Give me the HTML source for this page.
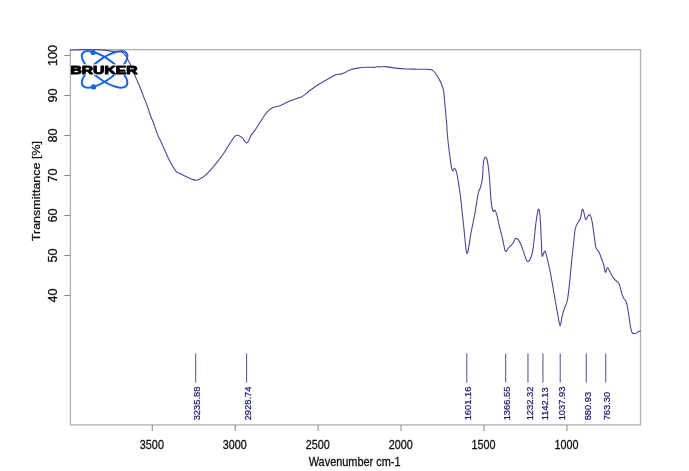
<!DOCTYPE html>
<html><head><meta charset="utf-8"><style>html,body{margin:0;padding:0;background:#fff;width:689px;height:471px;overflow:hidden}svg{display:block;will-change:transform}text{font-family:"Liberation Sans",sans-serif}</style></head>
<body><svg width="689" height="471" viewBox="0 0 689 471"><g>
<ellipse cx="104.6" cy="69.4" rx="27.3" ry="10.3" transform="rotate(36.5 104.6 69.4)" fill="none" stroke="#1565e6" stroke-width="2.0"/>
<ellipse cx="104.6" cy="69.4" rx="27.3" ry="10.3" transform="rotate(-36.5 104.6 69.4)" fill="none" stroke="#1565e6" stroke-width="2.0"/>
<circle cx="93.1" cy="52.4" r="2.6" fill="#1565e6"/>
<circle cx="93.6" cy="86.9" r="2.6" fill="#1565e6"/>
<rect x="71.6" y="64.3" width="66" height="10.6" fill="#fff"/>
</g>
<rect x="70.4" y="49.6" width="570.1" height="375.3" fill="none" stroke="#b0b0b0" stroke-width="1.3"/>
<line x1="64.3" y1="55.5" x2="70.4" y2="55.5" stroke="#8c8c8c" stroke-width="1.1"/>
<text transform="translate(56.7 55.5) rotate(-90) scale(1 0.97)" text-anchor="middle" font-size="12.6" fill="#111" stroke="#111" stroke-width="0.3">100</text>
<line x1="64.3" y1="95.5" x2="70.4" y2="95.5" stroke="#8c8c8c" stroke-width="1.1"/>
<text transform="translate(56.7 95.5) rotate(-90) scale(1 0.97)" text-anchor="middle" font-size="12.6" fill="#111" stroke="#111" stroke-width="0.3">90</text>
<line x1="64.3" y1="135.5" x2="70.4" y2="135.5" stroke="#8c8c8c" stroke-width="1.1"/>
<text transform="translate(56.7 135.5) rotate(-90) scale(1 0.97)" text-anchor="middle" font-size="12.6" fill="#111" stroke="#111" stroke-width="0.3">80</text>
<line x1="64.3" y1="175.5" x2="70.4" y2="175.5" stroke="#8c8c8c" stroke-width="1.1"/>
<text transform="translate(56.7 175.5) rotate(-90) scale(1 0.97)" text-anchor="middle" font-size="12.6" fill="#111" stroke="#111" stroke-width="0.3">70</text>
<line x1="64.3" y1="215.5" x2="70.4" y2="215.5" stroke="#8c8c8c" stroke-width="1.1"/>
<text transform="translate(56.7 215.5) rotate(-90) scale(1 0.97)" text-anchor="middle" font-size="12.6" fill="#111" stroke="#111" stroke-width="0.3">60</text>
<line x1="64.3" y1="255.5" x2="70.4" y2="255.5" stroke="#8c8c8c" stroke-width="1.1"/>
<text transform="translate(56.7 255.5) rotate(-90) scale(1 0.97)" text-anchor="middle" font-size="12.6" fill="#111" stroke="#111" stroke-width="0.3">50</text>
<line x1="64.3" y1="295.5" x2="70.4" y2="295.5" stroke="#8c8c8c" stroke-width="1.1"/>
<text transform="translate(56.7 295.5) rotate(-90) scale(1 0.97)" text-anchor="middle" font-size="12.6" fill="#111" stroke="#111" stroke-width="0.3">40</text>
<line x1="152.275" y1="424.9" x2="152.275" y2="431" stroke="#8c8c8c" stroke-width="1.1"/>
<text transform="translate(151.875 448.6) scale(0.9 1)" text-anchor="middle" font-size="12" fill="#111" stroke="#111" stroke-width="0.3">3500</text>
<line x1="235.20000000000002" y1="424.9" x2="235.20000000000002" y2="431" stroke="#8c8c8c" stroke-width="1.1"/>
<text transform="translate(234.8 448.6) scale(0.9 1)" text-anchor="middle" font-size="12" fill="#111" stroke="#111" stroke-width="0.3">3000</text>
<line x1="318.125" y1="424.9" x2="318.125" y2="431" stroke="#8c8c8c" stroke-width="1.1"/>
<text transform="translate(317.725 448.6) scale(0.9 1)" text-anchor="middle" font-size="12" fill="#111" stroke="#111" stroke-width="0.3">2500</text>
<line x1="401.04999999999995" y1="424.9" x2="401.04999999999995" y2="431" stroke="#8c8c8c" stroke-width="1.1"/>
<text transform="translate(400.65 448.6) scale(0.9 1)" text-anchor="middle" font-size="12" fill="#111" stroke="#111" stroke-width="0.3">2000</text>
<line x1="483.97499999999997" y1="424.9" x2="483.97499999999997" y2="431" stroke="#8c8c8c" stroke-width="1.1"/>
<text transform="translate(483.575 448.6) scale(0.9 1)" text-anchor="middle" font-size="12" fill="#111" stroke="#111" stroke-width="0.3">1500</text>
<line x1="566.9" y1="424.9" x2="566.9" y2="431" stroke="#8c8c8c" stroke-width="1.1"/>
<text transform="translate(566.5 448.6) scale(0.9 1)" text-anchor="middle" font-size="12" fill="#111" stroke="#111" stroke-width="0.3">1000</text>
<text transform="translate(354.6 466.2) scale(0.91 1)" text-anchor="middle" font-size="12" fill="#111" stroke="#111" stroke-width="0.3">Wavenumber cm-1</text>
<text transform="translate(39.7 191.1) rotate(-90) scale(1 0.9)" text-anchor="middle" font-size="12.5" fill="#111" stroke="#111" stroke-width="0.3">Transmittance [%]</text>
<line x1="195.679302" y1="353.5" x2="195.679302" y2="382.5" stroke="#4a4a90" stroke-width="1"/>
<text transform="translate(200.379302 420.3) rotate(-90) scale(0.95 1)" font-size="9.8" fill="#1c1c70" stroke="#1c1c70" stroke-width="0.25">3235.88</text>
<line x1="246.61847100000006" y1="353.5" x2="246.61847100000006" y2="382.5" stroke="#4a4a90" stroke-width="1"/>
<text transform="translate(251.31847100000005 420.3) rotate(-90) scale(0.95 1)" font-size="9.8" fill="#1c1c70" stroke="#1c1c70" stroke-width="0.25">2928.74</text>
<line x1="466.79761399999995" y1="353.5" x2="466.79761399999995" y2="382.5" stroke="#4a4a90" stroke-width="1"/>
<text transform="translate(471.49761399999994 420.3) rotate(-90) scale(0.95 1)" font-size="9.8" fill="#1c1c70" stroke="#1c1c70" stroke-width="0.25">1601.16</text>
<line x1="505.70768250000003" y1="353.5" x2="505.70768250000003" y2="382.5" stroke="#4a4a90" stroke-width="1"/>
<text transform="translate(510.4076825 420.3) rotate(-90) scale(0.95 1)" font-size="9.8" fill="#1c1c70" stroke="#1c1c70" stroke-width="0.25">1366.55</text>
<line x1="527.969728" y1="353.5" x2="527.969728" y2="382.5" stroke="#4a4a90" stroke-width="1"/>
<text transform="translate(532.6697280000001 420.3) rotate(-90) scale(0.95 1)" font-size="9.8" fill="#1c1c70" stroke="#1c1c70" stroke-width="0.25">1232.32</text>
<line x1="542.9277395" y1="353.5" x2="542.9277395" y2="382.5" stroke="#4a4a90" stroke-width="1"/>
<text transform="translate(547.6277395000001 420.3) rotate(-90) scale(0.95 1)" font-size="9.8" fill="#1c1c70" stroke="#1c1c70" stroke-width="0.25">1142.13</text>
<line x1="560.2093095" y1="353.5" x2="560.2093095" y2="382.5" stroke="#4a4a90" stroke-width="1"/>
<text transform="translate(564.9093095000001 420.3) rotate(-90) scale(0.95 1)" font-size="9.8" fill="#1c1c70" stroke="#1c1c70" stroke-width="0.25">1037.93</text>
<line x1="586.2477595" y1="353.5" x2="586.2477595" y2="382.5" stroke="#4a4a90" stroke-width="1"/>
<text transform="translate(590.9477595000001 420.3) rotate(-90) scale(0.95 1)" font-size="9.8" fill="#1c1c70" stroke="#1c1c70" stroke-width="0.25">880.93</text>
<line x1="605.756695" y1="353.5" x2="605.756695" y2="382.5" stroke="#4a4a90" stroke-width="1"/>
<text transform="translate(610.4566950000001 420.3) rotate(-90) scale(0.95 1)" font-size="9.8" fill="#1c1c70" stroke="#1c1c70" stroke-width="0.25">763.30</text>
<path d="M70.10,50.10 C71.95,50.02 76.80,49.68 81.20,49.60 C85.60,49.52 92.60,49.52 96.50,49.60 C100.40,49.68 102.23,49.85 104.60,50.10 C106.97,50.35 108.33,50.85 110.70,51.10 C113.07,51.35 116.97,51.43 118.80,51.60 C120.63,51.77 120.60,51.47 121.70,52.10 C122.80,52.73 124.35,54.10 125.40,55.40 C126.45,56.70 127.20,58.42 128.00,59.90 C128.80,61.38 129.48,62.75 130.20,64.30 C130.92,65.85 131.30,66.85 132.30,69.20 C133.30,71.55 134.88,75.32 136.20,78.40 C137.52,81.48 138.90,84.50 140.20,87.70 C141.50,90.90 142.77,94.38 144.00,97.60 C145.23,100.82 146.45,103.80 147.60,107.00 C148.75,110.20 150.00,114.35 150.90,116.80 C151.80,119.25 151.88,118.73 153.00,121.70 C154.12,124.67 156.20,131.12 157.60,134.60 C159.00,138.08 159.33,138.10 161.40,142.60 C163.47,147.10 167.57,156.82 170.00,161.60 C172.43,166.38 174.33,169.32 176.00,171.30 C177.67,173.28 178.35,172.63 180.00,173.50 C181.65,174.37 183.92,175.55 185.90,176.50 C187.88,177.45 190.28,178.58 191.90,179.20 C193.52,179.82 194.37,180.20 195.60,180.20 C196.83,180.20 197.68,180.02 199.30,179.20 C200.92,178.38 203.18,177.12 205.30,175.30 C207.42,173.48 209.77,170.83 212.00,168.30 C214.23,165.77 216.60,162.82 218.70,160.10 C220.80,157.38 222.62,154.97 224.60,152.00 C226.58,149.03 228.87,144.95 230.60,142.30 C232.33,139.65 233.77,137.27 235.00,136.10 C236.23,134.93 236.75,134.97 238.00,135.30 C239.25,135.63 241.02,136.82 242.50,138.10 C243.98,139.38 245.42,143.53 246.90,143.00 C248.38,142.47 249.92,137.23 251.40,134.90 C252.88,132.57 254.30,131.18 255.80,129.00 C257.30,126.82 258.65,124.50 260.40,121.80 C262.15,119.10 264.32,115.13 266.30,112.80 C268.28,110.47 270.07,108.97 272.30,107.80 C274.53,106.63 276.98,106.83 279.70,105.80 C282.42,104.77 285.72,102.83 288.60,101.60 C291.48,100.37 294.97,99.13 297.00,98.40 C299.03,97.67 299.47,97.83 300.80,97.20 C302.13,96.57 303.32,95.85 305.00,94.60 C306.68,93.35 308.43,91.50 310.90,89.70 C313.37,87.90 316.82,85.65 319.80,83.80 C322.78,81.95 326.07,80.13 328.80,78.60 C331.53,77.07 334.23,75.35 336.20,74.60 C338.17,73.85 339.10,74.47 340.60,74.10 C342.10,73.73 343.57,73.12 345.20,72.40 C346.83,71.68 348.37,70.52 350.40,69.80 C352.43,69.08 354.78,68.52 357.40,68.10 C360.02,67.68 363.08,67.43 366.10,67.30 C369.12,67.17 373.60,67.43 375.50,67.30 C377.40,67.17 376.75,66.55 377.50,66.50 C378.25,66.45 378.70,66.98 380.00,67.00 C381.30,67.02 382.68,66.42 385.30,66.60 C387.92,66.78 392.22,67.70 395.70,68.10 C399.18,68.50 402.72,68.82 406.20,69.00 C409.68,69.18 413.12,69.15 416.60,69.20 C420.08,69.25 424.60,69.20 427.10,69.30 C429.60,69.40 430.25,69.18 431.60,69.80 C432.95,70.42 434.03,71.58 435.20,73.00 C436.37,74.42 437.63,76.63 438.60,78.30 C439.57,79.97 440.17,80.90 441.00,83.00 C441.83,85.10 443.00,87.82 443.60,90.90 C444.20,93.98 444.25,97.78 444.60,101.50 C444.95,105.22 445.33,109.28 445.70,113.20 C446.07,117.12 446.55,121.75 446.80,125.00 C447.05,128.25 446.92,129.28 447.20,132.70 C447.48,136.12 448.02,141.25 448.50,145.50 C448.98,149.75 449.57,154.38 450.10,158.20 C450.63,162.02 451.27,166.27 451.70,168.40 C452.13,170.53 452.23,171.03 452.70,171.00 C453.17,170.97 453.93,168.20 454.50,168.20 C455.07,168.20 455.58,169.43 456.10,171.00 C456.62,172.57 456.87,173.30 457.60,177.60 C458.33,181.90 459.53,189.15 460.50,196.80 C461.47,204.45 462.53,215.23 463.40,223.50 C464.27,231.77 465.13,241.47 465.70,246.40 C466.27,251.33 466.38,252.45 466.80,253.10 C467.22,253.75 467.50,253.65 468.20,250.30 C468.90,246.95 469.90,239.05 471.00,233.00 C472.10,226.95 473.58,220.67 474.80,214.00 C476.02,207.33 477.33,197.47 478.30,193.00 C479.27,188.53 479.90,189.77 480.60,187.20 C481.30,184.63 482.02,181.80 482.50,177.60 C482.98,173.40 483.02,165.40 483.50,162.00 C483.98,158.60 484.77,157.40 485.40,157.20 C486.03,157.00 486.67,157.87 487.30,160.80 C487.93,163.73 488.57,168.17 489.20,174.80 C489.83,181.43 490.47,194.55 491.10,200.60 C491.73,206.65 492.37,209.52 493.00,211.10 C493.63,212.68 494.27,209.47 494.90,210.10 C495.53,210.73 496.00,212.03 496.80,214.90 C497.60,217.77 498.73,223.32 499.70,227.30 C500.67,231.28 501.65,234.82 502.60,238.80 C503.55,242.78 504.40,249.70 505.40,251.20 C506.40,252.70 507.50,248.93 508.60,247.80 C509.70,246.67 510.73,245.97 512.00,244.40 C513.27,242.83 514.78,238.55 516.20,238.40 C517.62,238.25 519.22,241.08 520.50,243.50 C521.78,245.92 522.77,249.92 523.90,252.90 C525.03,255.88 526.17,260.55 527.30,261.40 C528.43,262.25 529.72,260.27 530.70,258.00 C531.68,255.73 532.35,253.47 533.20,247.80 C534.05,242.13 534.95,230.38 535.80,224.00 C536.65,217.62 537.60,210.92 538.30,209.50 C539.00,208.08 539.50,210.42 540.00,215.50 C540.50,220.58 540.95,233.25 541.30,240.00 C541.65,246.75 541.50,254.13 542.10,256.00 C542.70,257.87 543.98,250.50 544.90,251.20 C545.82,251.90 546.72,256.72 547.60,260.20 C548.48,263.68 549.35,267.85 550.20,272.10 C551.05,276.35 551.85,280.88 552.70,285.70 C553.55,290.52 554.45,296.18 555.30,301.00 C556.15,305.82 557.00,310.50 557.80,314.60 C558.60,318.70 559.38,325.32 560.10,325.60 C560.82,325.88 561.35,319.27 562.10,316.30 C562.85,313.33 563.75,310.35 564.60,307.80 C565.45,305.25 566.48,304.12 567.20,301.00 C567.92,297.88 568.33,293.92 568.90,289.10 C569.47,284.28 570.12,277.02 570.60,272.10 C571.08,267.18 571.32,264.23 571.80,259.60 C572.28,254.97 572.93,249.40 573.50,244.30 C574.07,239.20 574.50,232.55 575.20,229.00 C575.90,225.45 576.85,224.70 577.70,223.00 C578.55,221.30 579.53,221.07 580.30,218.80 C581.07,216.53 581.68,210.40 582.30,209.40 C582.92,208.40 583.43,211.10 584.00,212.80 C584.57,214.50 585.05,219.03 585.70,219.60 C586.35,220.17 587.17,216.97 587.90,216.20 C588.63,215.43 589.38,214.00 590.10,215.00 C590.82,216.00 591.52,218.73 592.20,222.20 C592.88,225.67 593.58,231.55 594.20,235.80 C594.82,240.05 595.10,245.02 595.90,247.70 C596.70,250.38 598.07,250.07 599.00,251.90 C599.93,253.73 600.72,256.57 601.50,258.70 C602.28,260.83 603.05,262.43 603.70,264.70 C604.35,266.97 604.75,271.83 605.40,272.30 C606.05,272.77 606.77,267.43 607.60,267.50 C608.43,267.57 609.32,270.80 610.40,272.70 C611.48,274.60 612.68,277.08 614.10,278.90 C615.52,280.72 617.63,281.22 618.90,283.60 C620.17,285.98 620.92,290.82 621.70,293.20 C622.48,295.58 622.80,296.32 623.60,297.90 C624.40,299.48 625.70,300.30 626.50,302.70 C627.30,305.10 627.77,308.48 628.40,312.30 C629.03,316.12 629.67,322.17 630.30,325.60 C630.93,329.03 631.25,331.63 632.20,332.90 C633.15,334.17 634.88,333.47 636.00,333.20 C637.12,332.93 638.10,331.62 638.90,331.30 C639.70,330.98 640.48,331.30 640.80,331.30" fill="none" stroke="#4a4696" stroke-width="1.1" stroke-linejoin="round"/>
<text x="0" y="0" text-anchor="middle" font-size="11.4" font-weight="bold" fill="#000" stroke="#000" stroke-width="1.0" stroke-linejoin="round" transform="translate(104 73.6) scale(1.375 1)">BRUKER</text></svg></body></html>
